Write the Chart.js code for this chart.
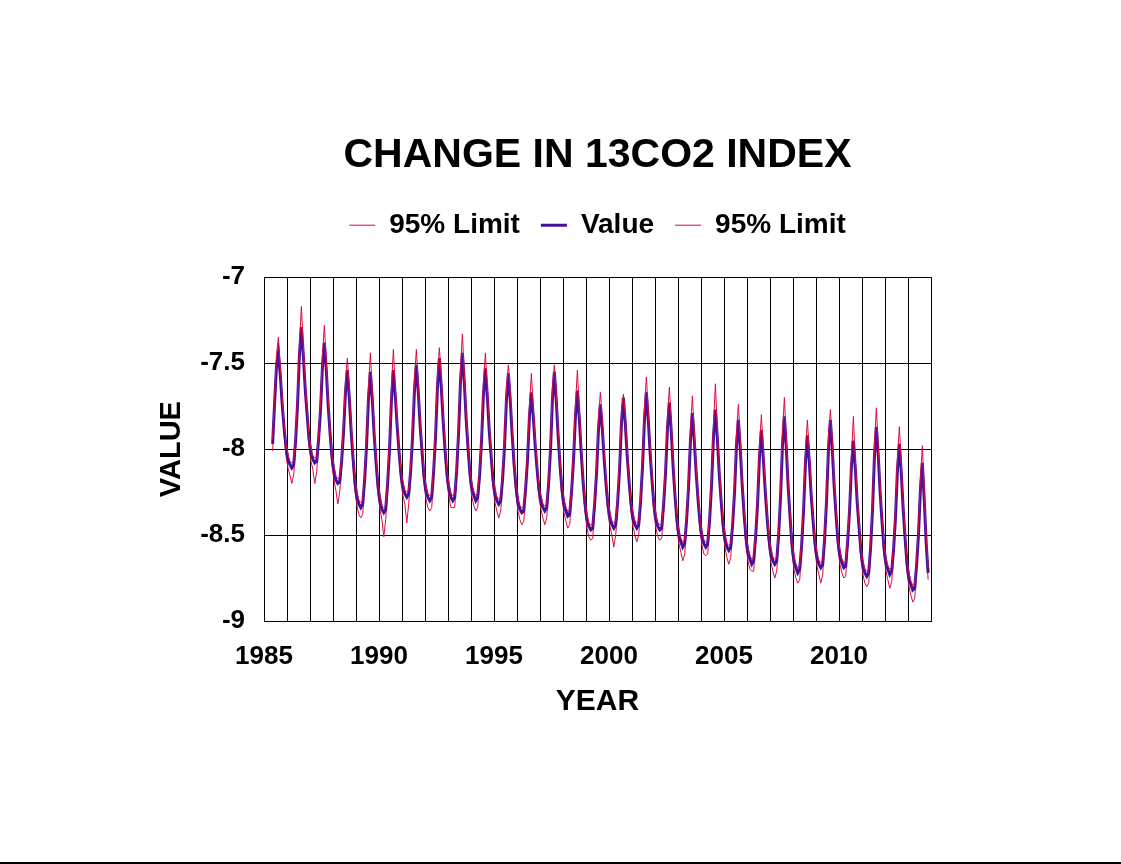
<!DOCTYPE html>
<html>
<head>
<meta charset="utf-8">
<title>Change in 13CO2 Index</title>
<script src="https://cdn.jsdelivr.net/npm/chart.js@4.4.1/dist/chart.umd.min.js"></script>
<style>
  body { margin: 0; background: #fff; }
  #chart { display: block; }
  .bottom-rule { height: 2px; background: #000; width: 1121px; }
</style>
</head>
<body>
<canvas id="chart" width="1121" height="862"></canvas>
<div class="bottom-rule"></div>
<script>
// Monthly series, first point May 1985, last point Nov 2013
const startYear = 1985;
const startMonth = 4; // May (0 = Jan)

// Value series (one line per year)
const value = [
  -7.97, -7.74, -7.52, -7.44, -7.57, -7.74, -7.88, -7.99,
  -8.06, -8.09, -8.11, -8.09, -7.95, -7.74, -7.45, -7.29, -7.45, -7.65, -7.80, -7.94,
  -8.02, -8.06, -8.08, -8.07, -7.94, -7.77, -7.52, -7.38, -7.54, -7.75, -7.91, -8.05,
  -8.13, -8.18, -8.20, -8.19, -8.07, -7.90, -7.67, -7.54, -7.70, -7.90, -8.06, -8.20,
  -8.28, -8.32, -8.34, -8.32, -8.18, -7.98, -7.71, -7.55, -7.71, -7.92, -8.08, -8.22,
  -8.30, -8.35, -8.37, -8.35, -8.20, -8.00, -7.71, -7.54, -7.69, -7.87, -8.02, -8.15,
  -8.22, -8.26, -8.28, -8.26, -8.13, -7.93, -7.66, -7.51, -7.67, -7.87, -8.02, -8.16,
  -8.24, -8.28, -8.30, -8.28, -8.13, -7.93, -7.64, -7.47, -7.64, -7.84, -8.01, -8.15,
  -8.23, -8.28, -8.30, -8.28, -8.13, -7.91, -7.61, -7.44, -7.61, -7.83, -8.00, -8.15,
  -8.23, -8.27, -8.30, -8.28, -8.15, -7.95, -7.68, -7.53, -7.69, -7.89, -8.04, -8.18,
  -8.26, -8.30, -8.32, -8.30, -8.17, -7.98, -7.71, -7.56, -7.72, -7.92, -8.09, -8.22,
  -8.31, -8.35, -8.37, -8.36, -8.23, -8.06, -7.81, -7.67, -7.81, -7.98, -8.12, -8.24,
  -8.30, -8.34, -8.36, -8.34, -8.20, -8.00, -7.71, -7.55, -7.72, -7.93, -8.10, -8.24,
  -8.32, -8.36, -8.39, -8.38, -8.24, -8.06, -7.81, -7.66, -7.82, -8.02, -8.19, -8.32,
  -8.41, -8.45, -8.47, -8.46, -8.32, -8.14, -7.89, -7.74, -7.88, -8.06, -8.21, -8.33,
  -8.40, -8.44, -8.46, -8.44, -8.31, -8.12, -7.85, -7.70, -7.85, -8.04, -8.19, -8.32,
  -8.40, -8.44, -8.46, -8.44, -8.30, -8.10, -7.83, -7.67, -7.83, -8.03, -8.19, -8.33,
  -8.41, -8.45, -8.47, -8.46, -8.32, -8.14, -7.88, -7.73, -7.90, -8.11, -8.28, -8.42,
  -8.50, -8.54, -8.57, -8.55, -8.41, -8.22, -7.95, -7.79, -7.95, -8.14, -8.30, -8.43,
  -8.51, -8.55, -8.57, -8.55, -8.41, -8.21, -7.93, -7.77, -7.93, -8.14, -8.30, -8.44,
  -8.52, -8.57, -8.59, -8.57, -8.44, -8.25, -7.98, -7.83, -8.00, -8.21, -8.38, -8.52,
  -8.60, -8.64, -8.67, -8.65, -8.51, -8.32, -8.05, -7.89, -8.05, -8.24, -8.40, -8.53,
  -8.61, -8.65, -8.67, -8.65, -8.50, -8.28, -7.98, -7.81, -7.99, -8.22, -8.40, -8.56,
  -8.65, -8.69, -8.72, -8.70, -8.56, -8.36, -8.08, -7.92, -8.07, -8.27, -8.42, -8.55,
  -8.63, -8.67, -8.69, -8.67, -8.52, -8.30, -8.00, -7.83, -8.00, -8.22, -8.39, -8.54,
  -8.62, -8.66, -8.69, -8.68, -8.54, -8.36, -8.10, -7.95, -8.11, -8.31, -8.46, -8.60,
  -8.68, -8.72, -8.74, -8.72, -8.57, -8.35, -8.04, -7.87, -8.04, -8.26, -8.43, -8.58,
  -8.66, -8.70, -8.73, -8.71, -8.58, -8.39, -8.12, -7.97, -8.14, -8.35, -8.52, -8.67,
  -8.75, -8.79, -8.82, -8.81, -8.67, -8.49, -8.23, -8.08, -8.30, -8.55, -8.72
];

// Upper 95% limit
const upper = [
  -7.94, -7.69, -7.45, -7.35, -7.52, -7.70, -7.85, -7.97,
  -8.03, -8.07, -8.08, -8.07, -7.92, -7.69, -7.38, -7.17, -7.40, -7.61, -7.77, -7.92,
  -7.99, -8.04, -8.05, -8.05, -7.91, -7.72, -7.45, -7.28, -7.49, -7.71, -7.88, -8.03,
  -8.10, -8.16, -8.17, -8.17, -8.04, -7.85, -7.60, -7.47, -7.65, -7.86, -8.03, -8.18,
  -8.25, -8.30, -8.31, -8.30, -8.15, -7.93, -7.64, -7.44, -7.66, -7.88, -8.05, -8.20,
  -8.27, -8.33, -8.34, -8.33, -8.17, -7.95, -7.64, -7.42, -7.64, -7.83, -7.99, -8.13,
  -8.19, -8.24, -8.25, -8.24, -8.10, -7.88, -7.59, -7.42, -7.62, -7.83, -7.99, -8.14,
  -8.21, -8.26, -8.27, -8.26, -8.10, -7.88, -7.57, -7.41, -7.59, -7.80, -7.98, -8.13,
  -8.20, -8.26, -8.27, -8.26, -8.10, -7.86, -7.54, -7.33, -7.56, -7.79, -7.97, -8.13,
  -8.20, -8.25, -8.27, -8.26, -8.12, -7.90, -7.61, -7.44, -7.64, -7.85, -8.01, -8.16,
  -8.23, -8.28, -8.29, -8.28, -8.14, -7.93, -7.64, -7.51, -7.67, -7.88, -8.06, -8.20,
  -8.28, -8.33, -8.34, -8.34, -8.20, -8.01, -7.74, -7.56, -7.76, -7.94, -8.09, -8.22,
  -8.27, -8.32, -8.33, -8.32, -8.17, -7.95, -7.64, -7.51, -7.67, -7.89, -8.07, -8.22,
  -8.29, -8.34, -8.36, -8.36, -8.21, -8.01, -7.74, -7.54, -7.77, -7.98, -8.16, -8.30,
  -8.38, -8.43, -8.44, -8.44, -8.29, -8.09, -7.82, -7.67, -7.83, -8.02, -8.18, -8.31,
  -8.37, -8.42, -8.43, -8.42, -8.28, -8.07, -7.78, -7.68, -7.80, -8.00, -8.16, -8.30,
  -8.37, -8.42, -8.43, -8.42, -8.27, -8.05, -7.76, -7.58, -7.78, -7.99, -8.16, -8.31,
  -8.38, -8.43, -8.44, -8.44, -8.29, -8.09, -7.81, -7.64, -7.85, -8.07, -8.25, -8.40,
  -8.47, -8.52, -8.54, -8.53, -8.38, -8.17, -7.88, -7.69, -7.90, -8.10, -8.27, -8.41,
  -8.48, -8.53, -8.54, -8.53, -8.38, -8.16, -7.86, -7.62, -7.88, -8.10, -8.27, -8.42,
  -8.49, -8.55, -8.56, -8.55, -8.41, -8.20, -7.91, -7.74, -7.95, -8.17, -8.35, -8.50,
  -8.57, -8.62, -8.64, -8.63, -8.48, -8.27, -7.98, -7.80, -8.00, -8.20, -8.37, -8.51,
  -8.58, -8.63, -8.64, -8.63, -8.47, -8.23, -7.91, -7.70, -7.94, -8.18, -8.37, -8.54,
  -8.62, -8.67, -8.69, -8.68, -8.53, -8.31, -8.01, -7.83, -8.02, -8.23, -8.39, -8.53,
  -8.60, -8.65, -8.66, -8.65, -8.49, -8.25, -7.93, -7.77, -7.95, -8.18, -8.36, -8.52,
  -8.59, -8.64, -8.66, -8.66, -8.51, -8.31, -8.03, -7.81, -8.06, -8.27, -8.43, -8.58,
  -8.65, -8.70, -8.71, -8.70, -8.54, -8.30, -7.97, -7.76, -7.99, -8.22, -8.40, -8.56,
  -8.63, -8.68, -8.70, -8.69, -8.55, -8.34, -8.05, -7.87, -8.09, -8.31, -8.49, -8.65,
  -8.72, -8.77, -8.79, -8.79, -8.64, -8.44, -8.16, -7.98, -8.25, -8.51, -8.69
];

// Lower 95% limit
const lower = [
  -8.01, -7.77, -7.54, -7.47, -7.59, -7.77, -7.92, -8.04,
  -8.11, -8.15, -8.20, -8.15, -7.99, -7.77, -7.47, -7.32, -7.47, -7.68, -7.84, -7.99,
  -8.07, -8.12, -8.20, -8.13, -7.98, -7.80, -7.54, -7.41, -7.56, -7.78, -7.95, -8.10,
  -8.18, -8.24, -8.32, -8.25, -8.11, -7.93, -7.69, -7.57, -7.72, -7.93, -8.10, -8.25,
  -8.33, -8.38, -8.40, -8.38, -8.22, -8.01, -7.73, -7.58, -7.73, -7.95, -8.12, -8.27,
  -8.35, -8.41, -8.51, -8.41, -8.24, -8.03, -7.73, -7.57, -7.71, -7.90, -8.06, -8.20,
  -8.27, -8.32, -8.43, -8.32, -8.17, -7.96, -7.68, -7.54, -7.69, -7.90, -8.06, -8.21,
  -8.29, -8.34, -8.36, -8.34, -8.17, -7.96, -7.66, -7.50, -7.66, -7.87, -8.05, -8.20,
  -8.28, -8.34, -8.34, -8.34, -8.17, -7.94, -7.63, -7.47, -7.63, -7.86, -8.04, -8.20,
  -8.28, -8.33, -8.36, -8.34, -8.19, -7.98, -7.70, -7.56, -7.71, -7.92, -8.08, -8.23,
  -8.31, -8.36, -8.40, -8.36, -8.21, -8.01, -7.73, -7.59, -7.74, -7.95, -8.13, -8.27,
  -8.36, -8.41, -8.44, -8.42, -8.27, -8.09, -7.83, -7.70, -7.83, -8.01, -8.16, -8.29,
  -8.35, -8.40, -8.44, -8.40, -8.24, -8.03, -7.73, -7.58, -7.74, -7.96, -8.14, -8.29,
  -8.37, -8.42, -8.46, -8.44, -8.28, -8.09, -7.83, -7.69, -7.84, -8.05, -8.23, -8.37,
  -8.46, -8.51, -8.53, -8.52, -8.36, -8.17, -7.91, -7.77, -7.90, -8.09, -8.25, -8.38,
  -8.45, -8.50, -8.57, -8.50, -8.35, -8.15, -7.87, -7.73, -7.87, -8.07, -8.23, -8.37,
  -8.45, -8.50, -8.54, -8.50, -8.34, -8.13, -7.85, -7.70, -7.85, -8.06, -8.23, -8.38,
  -8.46, -8.51, -8.53, -8.52, -8.36, -8.17, -7.90, -7.76, -7.92, -8.14, -8.32, -8.47,
  -8.55, -8.60, -8.65, -8.61, -8.45, -8.25, -7.97, -7.82, -7.97, -8.17, -8.34, -8.48,
  -8.56, -8.61, -8.62, -8.61, -8.45, -8.24, -7.95, -7.80, -7.95, -8.17, -8.34, -8.49,
  -8.57, -8.63, -8.67, -8.63, -8.48, -8.28, -8.00, -7.86, -8.02, -8.24, -8.42, -8.57,
  -8.65, -8.70, -8.71, -8.71, -8.55, -8.35, -8.07, -7.92, -8.07, -8.27, -8.44, -8.58,
  -8.66, -8.71, -8.75, -8.71, -8.54, -8.31, -8.00, -7.84, -8.01, -8.25, -8.44, -8.61,
  -8.70, -8.75, -8.78, -8.76, -8.60, -8.39, -8.10, -7.95, -8.09, -8.30, -8.46, -8.60,
  -8.68, -8.73, -8.78, -8.73, -8.56, -8.33, -8.02, -7.86, -8.02, -8.25, -8.43, -8.59,
  -8.67, -8.72, -8.75, -8.74, -8.58, -8.39, -8.12, -7.98, -8.13, -8.34, -8.50, -8.65,
  -8.73, -8.78, -8.80, -8.78, -8.61, -8.38, -8.06, -7.90, -8.06, -8.29, -8.47, -8.63,
  -8.71, -8.76, -8.81, -8.77, -8.62, -8.42, -8.14, -8.00, -8.16, -8.38, -8.56, -8.72,
  -8.80, -8.85, -8.89, -8.87, -8.71, -8.52, -8.25, -8.11, -8.32, -8.58, -8.76
];

// Axis ranges and labelled years
const yearMin = 1985;
const yearMax = 2014;
const labelledYears = [1985, 1990, 1995, 2000, 2005, 2010];
const yTicks = [-9, -8.5, -8, -7.5, -7];

const RED = '#dc0a3c';
const BLUE = '#44109e';
const FONT = "'Liberation Sans', Arial, sans-serif";

// Position of month i (middle of the month) on the year axis
function monthX(i) {
    return startYear + (startMonth + i + 0.5) / 12;
}

function toPoints(series) {
    return series.map((v, i) => ({ x: monthX(i), y: v }));
}

const ctx = document.getElementById('chart').getContext('2d');
const chart = new Chart(ctx, {
    type: 'line',
    data: {
        datasets: [
            {
                label: '95% Limit',
                data: toPoints(upper),
                borderColor: RED,
                backgroundColor: RED,
                borderWidth: 1
            },
            {
                label: 'Value',
                data: toPoints(value),
                borderColor: BLUE,
                backgroundColor: BLUE,
                borderWidth: 3
            },
            {
                label: '95% Limit',
                data: toPoints(lower),
                borderColor: RED,
                backgroundColor: RED,
                borderWidth: 1
            }
        ]
    },
    options: {
        responsive: false,
        animation: false,
        devicePixelRatio: 1,
        elements: {
            point: { radius: 0 },
            line: { tension: 0 }
        },
        layout: {
            padding: { top: 131, left: 155, right: 190, bottom: 142.5 }
        },
        plugins: {
            title: {
                display: true,
                text: 'CHANGE IN 13CO2 INDEX',
                color: '#000',
                fullSize: false,
                font: { family: FONT, size: 41, weight: 'bold' },
                padding: { top: 0, bottom: 10 }
            },
            legend: {
                display: true,
                position: 'top',
                fullSize: false,
                weight: 1800,
                labels: {
                    color: '#000',
                    font: { family: FONT, size: 28, weight: 'bold' },
                    usePointStyle: true,
                    pointStyle: 'line',
                    pointStyleWidth: 26,
                    padding: 21
                }
            },
            subtitle: {
                // empty spacer between legend and plot
                display: true,
                text: ' ',
                fullSize: false,
                font: { size: 28, lineHeight: 1 },
                padding: 0
            },
            tooltip: { enabled: false }
        },
        scales: {
            x: {
                type: 'linear',
                min: yearMin,
                max: yearMax,
                grid: { color: '#000', lineWidth: 1, drawTicks: false },
                border: { color: '#000', width: 1 },
                afterFit: scale => { scale.height = 98.5; },
                ticks: {
                    stepSize: 1,
                    autoSkip: false,
                    maxRotation: 0,
                    minRotation: 0,
                    padding: 20,
                    color: '#000',
                    font: { family: FONT, size: 26, weight: 'bold' },
                    callback: v => labelledYears.includes(v) ? String(v) : ''
                },
                title: {
                    display: true,
                    text: 'YEAR',
                    color: '#000',
                    font: { family: FONT, size: 30, weight: 'bold' },
                    padding: { top: 0, bottom: 0 }
                }
            },
            y: {
                min: yTicks[0],
                max: yTicks[yTicks.length - 1],
                grid: { color: '#000', lineWidth: 1, drawTicks: false },
                border: { color: '#000', width: 1 },
                afterFit: scale => { scale.width = 109; },
                afterBuildTicks: scale => { scale.ticks = yTicks.map(v => ({ value: v })); },
                ticks: {
                    padding: 19,
                    color: '#000',
                    font: { family: FONT, size: 26, weight: 'bold' },
                    callback: v => String(v)
                },
                title: {
                    display: true,
                    text: 'VALUE',
                    color: '#000',
                    font: { family: FONT, size: 29, weight: 'bold' },
                    padding: { top: 0, bottom: 0 }
                }
            }
        }
    }
});
</script>
</body>
</html>
